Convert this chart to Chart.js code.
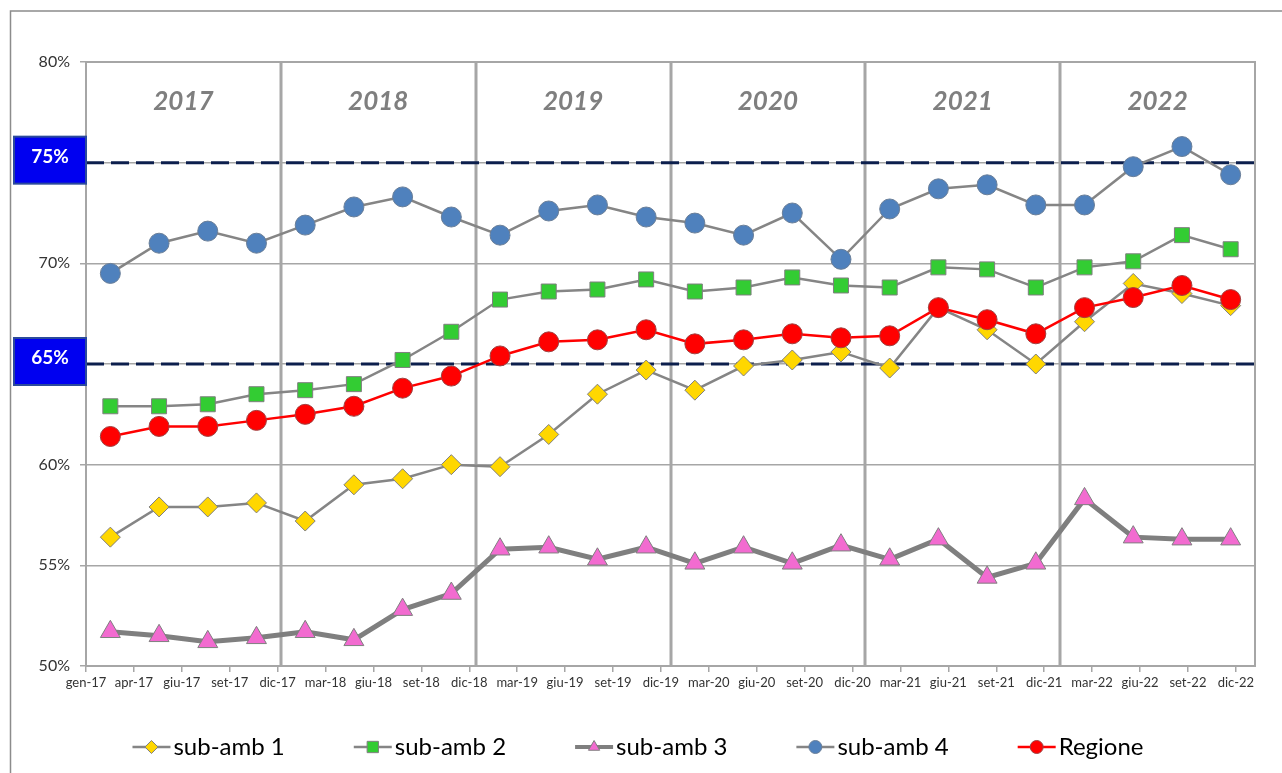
<!DOCTYPE html>
<html>
<head>
<meta charset="utf-8">
<script src="https://cdn.jsdelivr.net/npm/chart.js@4.4.1/dist/chart.umd.min.js"></script>
<style>
  body { margin: 0; background: #fff; }
  canvas { display: block; }
</style>
</head>
<body>
<canvas id="grafico" width="1282" height="773"></canvas>
<script>
// etichette dell'asse orizzontale (come nel grafico originale)
const etichetteAsse = ['gen-17', 'apr-17', 'giu-17', 'set-17', 'dic-17', 'mar-18', 'giu-18', 'set-18', 'dic-18',
  'mar-19', 'giu-19', 'set-19', 'dic-19', 'mar-20', 'giu-20', 'set-20', 'dic-20',
  'mar-21', 'giu-21', 'set-21', 'dic-21', 'mar-22', 'giu-22', 'set-22', 'dic-22'];

const anni = ['2017', '2018', '2019', '2020', '2021', '2022'];
const trimestri = ['I', 'II', 'III', 'IV'];
// 24 rilevazioni: 4 per anno
const periodi = anni.flatMap(a => trimestri.map(t => t + '-' + a));

const soglie = [75, 65];

const subAmb1 = [56.4, 57.9, 57.9, 58.1, 57.2, 59.0, 59.3, 60.0, 59.9, 61.5, 63.5, 64.7,
  63.7, 64.9, 65.2, 65.6, 64.8, 67.8, 66.7, 65.0, 67.1, 69.0, 68.5, 67.9];
const subAmb2 = [62.9, 62.9, 63.0, 63.5, 63.7, 64.0, 65.2, 66.6, 68.2, 68.6, 68.7, 69.2,
  68.6, 68.8, 69.3, 68.9, 68.8, 69.8, 69.7, 68.8, 69.8, 70.1, 71.4, 70.7];
const subAmb3 = [51.7, 51.5, 51.2, 51.4, 51.7, 51.3, 52.8, 53.6, 55.8, 55.9, 55.3, 55.9,
  55.1, 55.9, 55.1, 56.0, 55.3, 56.3, 54.4, 55.1, 58.3, 56.4, 56.3, 56.3];
const subAmb4 = [69.5, 71.0, 71.6, 71.0, 71.9, 72.8, 73.3, 72.3, 71.4, 72.6, 72.9, 72.3,
  72.0, 71.4, 72.5, 70.2, 72.7, 73.7, 73.9, 72.9, 72.9, 74.8, 75.8, 74.4];
const regione = [61.4, 61.9, 61.9, 62.2, 62.5, 62.9, 63.8, 64.4, 65.4, 66.1, 66.2, 66.7,
  66.0, 66.2, 66.5, 66.3, 66.4, 67.8, 67.2, 66.5, 67.8, 68.3, 68.9, 68.2];

const FONT = 'Lato, "Open Sans", sans-serif';
const GRIGIO = '#a6a6a6';

function disegnaMarker(ctx, stile, x, y, r) {
  ctx.beginPath();
  if (stile === 'circle') {
    ctx.arc(x, y, r, 0, Math.PI * 2);
  } else if (stile === 'rect') {
    const s = r * Math.SQRT1_2;
    ctx.rect(x - s, y - s, 2 * s, 2 * s);
  } else if (stile === 'rectRot') {
    ctx.moveTo(x - r, y); ctx.lineTo(x, y - r); ctx.lineTo(x + r, y); ctx.lineTo(x, y + r);
    ctx.closePath();
  } else if (stile === 'triangle') {
    ctx.moveTo(x, y - r);
    ctx.lineTo(x + r * 0.866, y + r * 0.5);
    ctx.lineTo(x - r * 0.866, y + r * 0.5);
    ctx.closePath();
  }
  ctx.fill();
  ctx.stroke();
}

const decorazioni = {
  id: 'decorazioni',
  beforeDraw(chart) {
    const ctx = chart.ctx;
    ctx.save();
    ctx.fillStyle = '#fff';
    ctx.fillRect(0, 0, chart.width, chart.height);
    ctx.strokeStyle = '#8c8c8c';
    ctx.lineWidth = 1.5;
    ctx.strokeRect(10.5, 11, chart.width + 20, chart.height + 20);
    ctx.restore();
  },
  beforeDatasetsDraw(chart) {
    const { ctx, chartArea: a, scales: { x, y } } = chart;
    ctx.save();
    // separatori tra gli anni
    ctx.strokeStyle = GRIGIO;
    ctx.lineWidth = 3;
    for (let i = 1; i < anni.length; i++) {
      const px = Math.round(x.getPixelForValue(i * 4 - 0.5));
      ctx.beginPath(); ctx.moveTo(px, a.top); ctx.lineTo(px, a.bottom); ctx.stroke();
    }
    // soglie 75% e 65%
    ctx.strokeStyle = '#0c1f4d';
    ctx.lineWidth = 3;
    ctx.setLineDash([18, 7]);
    soglie.forEach(v => {
      const py = y.getPixelForValue(v);
      ctx.beginPath(); ctx.moveTo(a.left, py); ctx.lineTo(a.right, py); ctx.stroke();
    });
    ctx.setLineDash([]);
    // bordo area del grafico
    ctx.strokeStyle = GRIGIO;
    ctx.lineWidth = 2;
    ctx.strokeRect(a.left, a.top, a.width, a.height);
    // anni
    ctx.font = 'italic bold 26px ' + FONT;
    ctx.fillStyle = '#7f7f7f';
    ctx.textAlign = 'center';
    ctx.textBaseline = 'middle';
    anni.forEach((t, i) => {
      const cx = (x.getPixelForValue(i * 4 - 0.5) + x.getPixelForValue(i * 4 + 3.5)) / 2;
      ctx.fillText(t, cx, y.getPixelForValue(78.05));
    });
    ctx.restore();
  },
  afterDraw(chart) {
    const { ctx, scales: { y } } = chart;
    ctx.save();
    // riquadri blu delle soglie
    soglie.forEach(v => {
      const py = y.getPixelForValue(v);
      ctx.fillStyle = '#0000f0';
      ctx.strokeStyle = '#2b4a9c';
      ctx.lineWidth = 2;
      ctx.fillRect(14, py - 26, 72, 47);
      ctx.strokeRect(14, py - 26, 72, 47);
      ctx.fillStyle = '#fff';
      ctx.font = 'bold 19px ' + FONT;
      ctx.textAlign = 'center';
      ctx.textBaseline = 'middle';
      ctx.fillText(v + '%', 50, py - 6);
    });

    // legenda
    const yL = 747;
    const larghIcona = 38, spazio = 3, distanza = 69;
    ctx.font = '24px ' + FONT;
    const voci = chart.data.datasets.map(ds => ({ ds, w: larghIcona + spazio + ctx.measureText(ds.label).width }));
    const totale = voci.reduce((s, v) => s + v.w, 0) + distanza * (voci.length - 1);
    let xL = 638 - totale / 2;
    voci.forEach(({ ds, w }) => {
      ctx.strokeStyle = ds.borderColor;
      ctx.lineWidth = ds.borderWidth > 3 ? 4 : 2.5;
      ctx.beginPath(); ctx.moveTo(xL, yL); ctx.lineTo(xL + larghIcona, yL); ctx.stroke();
      ctx.fillStyle = ds.pointBackgroundColor;
      ctx.strokeStyle = ds.pointBorderColor;
      ctx.lineWidth = 1;
      disegnaMarker(ctx, ds.pointStyle, xL + larghIcona / 2, yL, ds.pointStyle === 'rect' ? 8 : 6.5);
      ctx.fillStyle = '#000';
      ctx.textAlign = 'left';
      ctx.textBaseline = 'middle';
      ctx.fillText(ds.label, xL + larghIcona + spazio, yL);
      xL += w + distanza;
    });
    ctx.restore();
  }
};

function serie(label, data, stile, colore, opzioni) {
  return Object.assign({
    label: label,
    data: data,
    borderColor: '#858585',
    borderWidth: 2.5,
    pointStyle: stile,
    pointRadius: 10,
    pointHoverRadius: 10,
    pointBackgroundColor: colore,
    pointBorderColor: '#7f7f7f',
    pointBorderWidth: 1,
    tension: 0,
    fill: false
  }, opzioni || {});
}

new Chart(document.getElementById('grafico').getContext('2d'), {
  type: 'line',
  data: {
    labels: periodi,
    datasets: [
      serie('sub-amb 1', subAmb1, 'rectRot', '#ffd700', { order: 1 }),
      serie('sub-amb 2', subAmb2, 'rect', '#33cc33', { order: 4, pointRadius: 10.6, pointHoverRadius: 10.6 }),
      serie('sub-amb 3', subAmb3, 'triangle', '#f26bd0', { order: 3, borderWidth: 5, borderColor: '#7f7f7f', pointRadius: 11.5, pointHoverRadius: 11.5 }),
      serie('sub-amb 4', subAmb4, 'circle', '#4f81bd', { order: 2, pointBorderColor: '#6a7f99' }),
      serie('Regione', regione, 'circle', '#ff0000', { order: 0, borderColor: '#ff0000', pointBorderColor: '#a04040' })
    ]
  },
  options: {
    responsive: false,
    animation: false,
    layout: { padding: { left: 14, right: 27, top: 62, bottom: 77 } },
    plugins: {
      legend: { display: false },
      tooltip: { enabled: false }
    },
    scales: {
      x: {
        type: 'category',
        offset: true,
        display: false
      },
      x2: {
        type: 'linear',
        position: 'bottom',
        min: 0,
        max: 24.4,
        afterBuildTicks: s => { s.ticks = etichetteAsse.map((_, i) => ({ value: i })); },
        afterFit: s => { s.height = 30; },
        ticks: {
          callback: (v, i) => etichetteAsse[i],
          autoSkip: false,
          maxRotation: 0,
          padding: 3,
          color: '#333333',
          font: { family: FONT, size: 13 }
        },
        grid: { drawOnChartArea: false, tickLength: 6, color: GRIGIO, lineWidth: 1.5 },
        border: { display: false }
      },
      y: {
        min: 50,
        max: 80,
        afterFit: s => { s.width = 72; },
        ticks: {
          stepSize: 5,
          padding: 10,
          callback: v => (soglie.includes(v) ? '' : v + '%'),
          color: '#333333',
          font: { family: FONT, size: 16 }
        },
        grid: { color: GRIGIO, lineWidth: 1.5, tickLength: 6 },
        border: { display: false }
      }
    }
  },
  plugins: [decorazioni]
});
</script>
</body>
</html>
